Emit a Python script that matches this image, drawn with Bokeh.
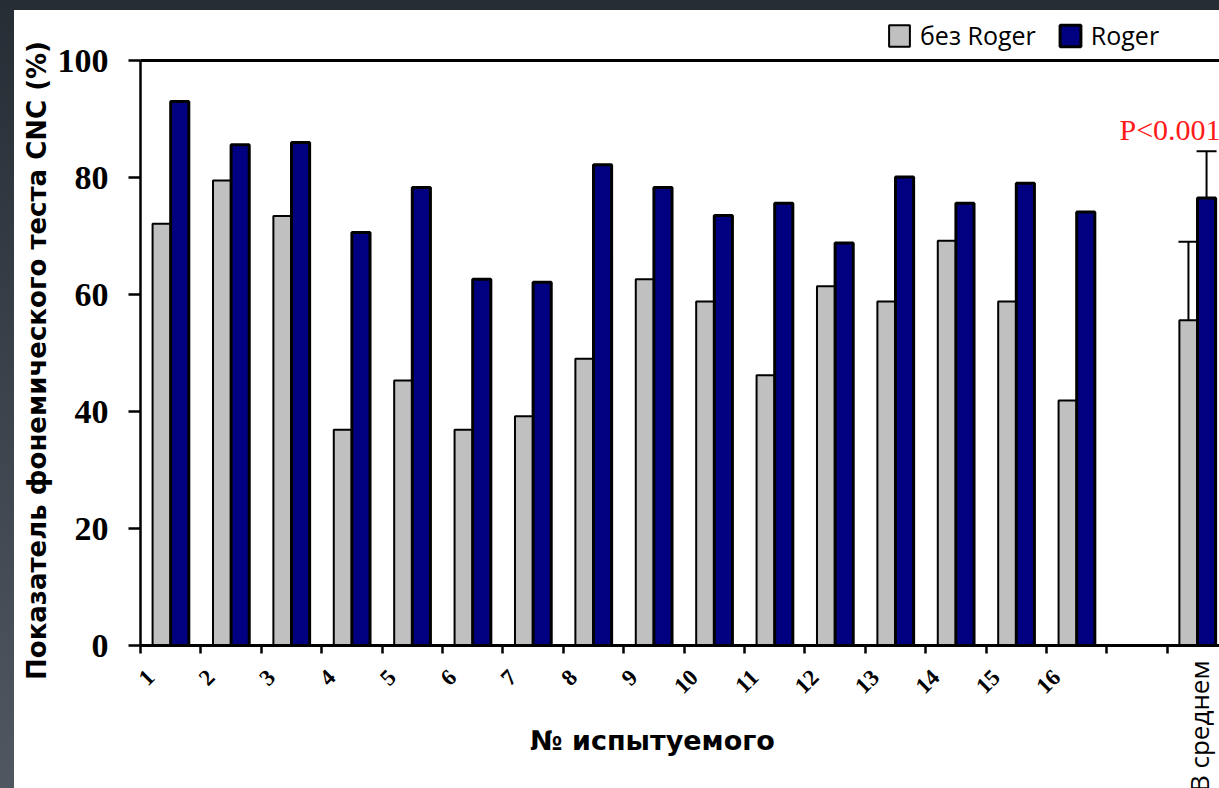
import math
from bokeh.plotting import figure
from bokeh.models import (ColumnDataSource, FixedTicker, Label,
                          Legend, LegendItem, Whisker, TeeHead, Range1d)
from bokeh.embed import file_html
from bokeh.resources import INLINE

# ---------------- data ----------------
subjects = [str(i) for i in range(1, 17)]
without_roger = [72.1, 79.5, 73.4, 36.9, 45.3, 36.9, 39.2, 49.0,
                 62.6, 58.8, 46.2, 61.4, 58.8, 69.2, 58.8, 41.9]
with_roger = [93.0, 85.6, 86.0, 70.6, 78.3, 62.6, 62.1, 82.2,
              78.3, 73.5, 75.6, 68.8, 80.1, 75.6, 79.0, 74.1]
mean_label = "В среднем"
mean_without = 55.6
mean_with = 76.5
sd_without = 13.4
sd_with = 8.0
y_ticks = [0, 20, 40, 60, 80, 100]
series_names = ["без Roger", "Roger"]
p_text = "P<0.001"
x_title = "№ испытуемого"
y_title = "Показатель фонемического теста CNC (%)"

# ---------------- layout helpers ----------------
W, H = 1219, 788
FX0, FY0 = 140, 645          # screen position of data origin
PX_X = 60.4                  # px per category slot
PX_Y = 5.85                  # px per percent
n_slots = len(subjects) + 2
slots = list(range(len(subjects))) + [len(subjects) + 1]
gray_top = without_roger + [mean_without]
navy_top = with_roger + [mean_with]

src_gray = ColumnDataSource(dict(x=[s + 0.35 for s in slots], top=gray_top))
src_navy = ColumnDataSource(dict(x=[s + 0.65 for s in slots], top=navy_top))

x_end = (W - FX0) / PX_X
p = figure(width=W, height=H,
           x_range=Range1d(-FX0 / PX_X, x_end),
           y_range=Range1d(-(H - FY0) / PX_Y, FY0 / PX_Y),
           output_backend="svg", toolbar_location=None,
           min_border=0, min_border_left=0, min_border_right=0,
           min_border_top=0, min_border_bottom=0)
p.border_fill_color = None
p.background_fill_color = None
p.outline_line_color = None
p.xgrid.visible = False
p.ygrid.visible = False

r_gray = p.vbar(x="x", top="top", width=0.3, source=src_gray,
                fill_color="#c0c0c0", line_color="black", line_width=2)
r_navy = p.vbar(x="x", top="top", width=0.3, source=src_navy,
                fill_color="#000080", line_color="black", line_width=3)

# error bars (upper only)
err_src = ColumnDataSource(dict(
    x=[slots[-1] + 0.35, slots[-1] + 0.65],
    lower=[mean_without, mean_with],
    upper=[mean_without + sd_without, mean_with + sd_with]))
p.add_layout(Whisker(source=err_src, base="x", lower="lower", upper="upper",
                     dimension="height", line_width=2, line_color="black",
                     lower_head=None,
                     upper_head=TeeHead(size=20, line_width=2, line_color="black")))

# top border line of the plot area
p.segment(x0=[0], y0=[y_ticks[-1]], x1=[x_end], y1=[y_ticks[-1]],
          line_color="black", line_width=3)

# ---------------- axes ----------------
label_pos = [k + 10 / PX_X for k in range(len(subjects))]
xa = p.xaxis[0]
xa.fixed_location = 0
xa.bounds = (0, n_slots)
xa.ticker = FixedTicker(ticks=label_pos, minor_ticks=list(range(n_slots)))
xa.major_label_overrides = {pos: lab for pos, lab in zip(label_pos, subjects)}
xa.major_tick_line_color = None
xa.major_tick_out = 0
xa.major_tick_in = 0
xa.minor_tick_out = 8
xa.minor_tick_in = 0
xa.minor_tick_line_width = 2.5
xa.minor_tick_line_color = "black"
xa.axis_line_width = 3
xa.major_label_orientation = math.pi / 4
xa.major_label_standoff = 20
xa.major_label_text_font = "Liberation Serif"
xa.major_label_text_font_style = "bold"
xa.major_label_text_font_size = "23px"
xa.major_label_text_color = "black"

ya = p.yaxis[0]
ya.fixed_location = 0
ya.bounds = (0, 100)
ya.ticker = FixedTicker(ticks=y_ticks)
ya.major_tick_out = 12
ya.major_tick_in = 0
ya.major_tick_line_width = 2.5
ya.minor_tick_line_color = None
ya.axis_line_width = 2.5
ya.major_label_text_font = "Liberation Serif"
ya.major_label_text_font_style = "bold"
ya.major_label_text_font_size = "34px"
ya.major_label_text_color = "black"
ya.major_label_standoff = 20

# ---------------- texts ----------------
p.add_layout(Label(x=slots[-1] + 0.5, y=-15 / PX_Y, x_offset=1, text=mean_label,
                   angle=math.pi / 2, text_align="right", text_baseline="middle",
                   text_font="Open Sans", text_font_size="26px", text_color="black"))

p.add_layout(Label(x=(652 - FX0) / PX_X, y=-(740 - FY0) / PX_Y, text=x_title,
                   text_align="center", text_baseline="middle",
                   text_font="DejaVu Sans", text_font_style="bold",
                   text_font_size="27px", text_color="black"))

p.add_layout(Label(x=(36 - FX0) / PX_X, y=(FY0 - 360) / PX_Y, text=y_title,
                   angle=math.pi / 2, text_align="center", text_baseline="middle",
                   text_font="DejaVu Sans", text_font_style="bold",
                   text_font_size="26px", text_color="black"))

p.add_layout(Label(x=(1119 - FX0) / PX_X, y=(FY0 - 129) / PX_Y, text=p_text,
                   text_align="left", text_baseline="alphabetic",
                   text_font="Liberation Serif", text_font_size="30px",
                   text_color="#ff1a1a"))

# ---------------- legend ----------------
legend = Legend(items=[LegendItem(label=series_names[0], renderers=[r_gray]),
                       LegendItem(label=series_names[1], renderers=[r_navy])],
                orientation="horizontal", location=(886, H - 52),
                glyph_width=26, glyph_height=27, label_standoff=8, spacing=21,
                padding=0, margin=0, border_line_color=None,
                background_fill_alpha=0,
                label_text_font="Open Sans", label_text_font_size="25px",
                label_text_color="black")
p.add_layout(legend)

html = file_html(p, INLINE)
style = ("<style>html{background:"
         "linear-gradient(#262d35,#262d35) 0 0/100% 10px no-repeat,"
         "linear-gradient(#262d35,#4f5861) 0 0/14px 100% no-repeat,#ffffff;}"
         "body{background:transparent;}</style>")
html = html.replace("</head>", style + "</head>", 1)
open("out.html", "w").write(html)
